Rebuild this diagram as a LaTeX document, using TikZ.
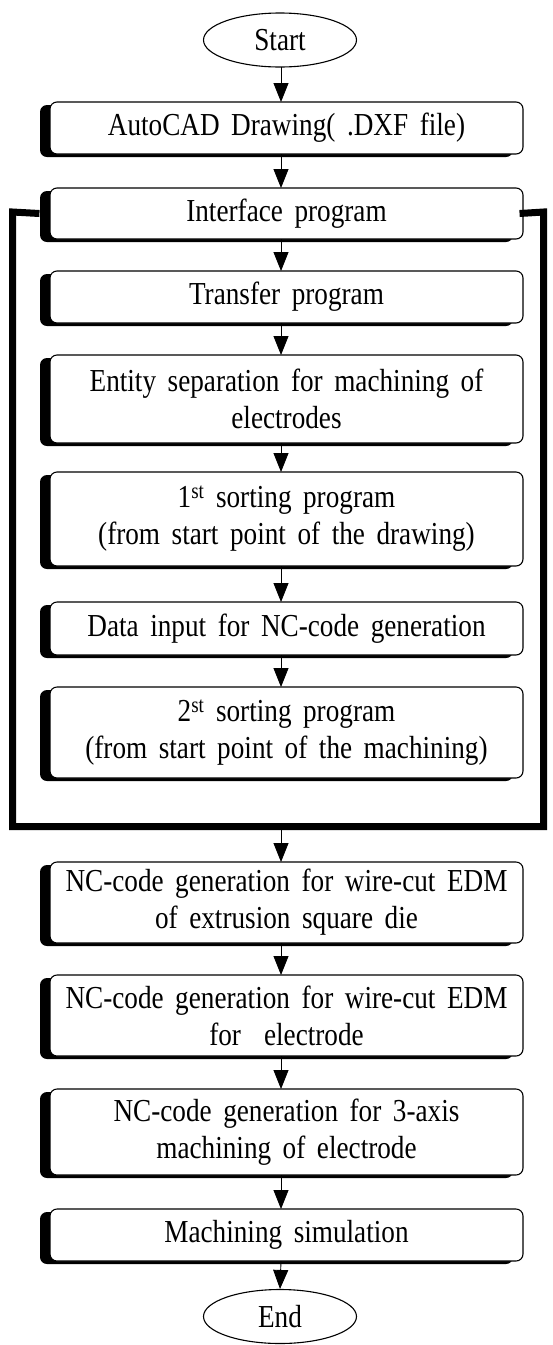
\documentclass[tikz,border=0pt]{standalone}
\usepackage{fontspec}
\setmainfont[WordSpace=1.7, FakeStretch=0.85]{Liberation Serif}
\usetikzlibrary{arrows.meta,shadows,shapes.geometric}
\begin{document}
\begin{tikzpicture}[x=1pt,y=-1pt,
  proc/.style={draw, line width=1.1pt, rounded corners=7pt, fill=white,
    minimum width=473pt, align=center, inner sep=0pt,
    font=\fontsize{32}{37}\selectfont,
    drop shadow={shadow xshift=-10pt, shadow yshift=-3pt, fill=black, opacity=1}},
  term/.style={draw, line width=1.1pt, ellipse, minimum width=153pt,
    minimum height=54pt, inner sep=0pt, fill=white, font=\fontsize{32}{36}\selectfont},
  arr/.style={-{Triangle[width=15pt,length=19pt]}, line width=0.9pt},
  loopline/.style={line width=7pt}
]
\useasboundingbox (0,0) rectangle (553,1345);
\node[term] (s) at (280,40) {Start};
\node[proc, minimum height=52pt] (b1) at (286.5,128) {AutoCAD Drawing( .DXF file)};
\node[proc, minimum height=51pt] (b2) at (286.5,213.5) {Interface program};
\node[proc, minimum height=52pt] (b3) at (286.5,297) {Transfer program};
\node[proc, minimum height=88pt] (b4) at (286.5,399) {Entity separation for machining of\\electrodes};
\node[proc, minimum height=94pt] (b5) at (286.5,519) {1\textsuperscript{st} sorting program\\(from start point of the drawing)};
\node[proc, minimum height=53pt] (b6) at (286.5,628.5) {Data input for NC-code generation};
\node[proc, minimum height=91pt] (b7) at (286.5,732.5) {2\textsuperscript{st} sorting program\\(from start point of the machining)};
\node[proc, minimum height=81pt] (b8) at (286.5,902.5) {NC-code generation for wire-cut EDM\\of extrusion square die};
\node[proc, minimum height=81pt] (b9) at (286.5,1015.5) {NC-code generation for wire-cut EDM\\for~~electrode};
\node[proc, minimum height=86pt] (b10) at (286.5,1132) {NC-code generation for 3-axis\\machining of electrode};
\node[proc, minimum height=52pt] (b11) at (286.5,1235) {Machining simulation};
\node[term] (e) at (280,1316.5) {End};

\coordinate (lb) at (281,826.5);
\draw[loopline] ([xshift=-10pt]b2.west) -- (12.5,212) -- (12.5,826.5) -- (543.5,826.5) -- (543.5,212) -- ([xshift=-4pt]b2.east);

\draw[arr] (281,67) -- (281,102);
\draw[arr] (281,154) -- (281,188);
\draw[arr] (281,239) -- (281,271);
\draw[arr] (281,323) -- (281,355);
\draw[arr] (281,443) -- (281,472);
\draw[arr] (281,566) -- (281,602);
\draw[arr] (281,655) -- (281,687);
\draw[arr] (lb) -- (281,862);
\draw[arr] (281,943) -- (281,975);
\draw[arr] (281,1056) -- (281,1089);
\draw[arr] (281,1175) -- (281,1209);
\draw[arr] (281,1261) -- (e.north);
\end{tikzpicture}
\end{document}
